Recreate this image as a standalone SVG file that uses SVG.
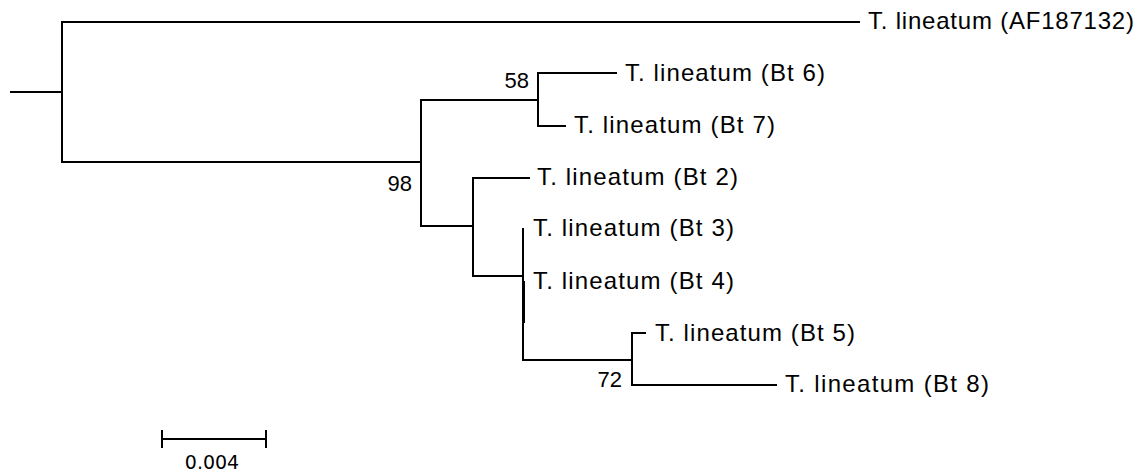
<svg xmlns="http://www.w3.org/2000/svg" width="1144" height="472" viewBox="0 0 1144 472">
<style>
.br{stroke:#000;stroke-width:2;fill:none;stroke-linecap:square}
.tip{font-family:"Liberation Sans",Arial,sans-serif;font-size:24px;fill:#000}
.bs{font-family:"Liberation Sans",Arial,sans-serif;font-size:22px;fill:#000;text-anchor:end}
.sc{font-family:"DejaVu Sans",Verdana,sans-serif;font-size:19px;fill:#000;text-anchor:middle}
</style>
<rect width="1144" height="472" fill="#fff"/>
<g id="connectors" class="br">
<path d="M11,92 H62 M62,22 V162 M62,22 H859 M62,162 H421"/>
<path d="M421,100 V226 M421,100 H538 M538,73 V126 M538,73 H616 M538,126 H565"/>
<path d="M421,226 H473 M473,178 V276 M473,178 H529 M473,276 H523"/>
<path d="M523,229 V360 M523,360 H632 M632,333 V385 M632,333 H645 M632,385 H776"/>
<path d="M524,282 V322"/>
</g>
<g id="n-af"><text class="tip" x="868" y="29" textLength="266" lengthAdjust="spacing">T. lineatum (AF187132)</text></g>
<g id="n-bt6"><text class="tip" x="625" y="81" textLength="200" lengthAdjust="spacing">T. lineatum (Bt 6)</text></g>
<g id="n-bt7"><text class="tip" x="574" y="133" textLength="201" lengthAdjust="spacing">T. lineatum (Bt 7)</text></g>
<g id="n-bt2"><text class="tip" x="537" y="185" textLength="201" lengthAdjust="spacing">T. lineatum (Bt 2)</text></g>
<g id="n-bt3"><text class="tip" x="533" y="236" textLength="201" lengthAdjust="spacing">T. lineatum (Bt 3)</text></g>
<g id="n-bt4"><text class="tip" x="533" y="289" textLength="201" lengthAdjust="spacing">T. lineatum (Bt 4)</text></g>
<g id="n-bt5"><text class="tip" x="655" y="341" textLength="200" lengthAdjust="spacing">T. lineatum (Bt 5)</text></g>
<g id="n-bt8"><text class="tip" x="785" y="392" textLength="204" lengthAdjust="spacing">T. lineatum (Bt 8)</text></g>
<g id="s98"><text class="bs" x="412" y="191">98</text></g>
<g id="s58"><text class="bs" x="529" y="88">58</text></g>
<g id="s72"><text class="bs" x="622" y="387">72</text></g>
<g id="scale">
<path class="br" d="M162,439 H266 M162,431 V447 M266,431 V447" stroke-linecap="butt"/>
<text class="sc" x="212" y="469">0.004</text>
</g>
</svg>
